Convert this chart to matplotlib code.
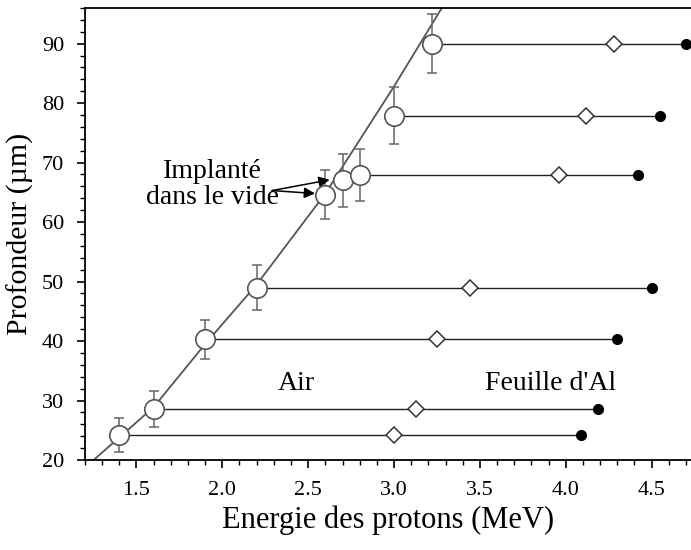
import numpy as np
import matplotlib
matplotlib.use("Agg")
import matplotlib.pyplot as plt
from matplotlib.ticker import MultipleLocator

plt.rcParams['font.family'] = ['Liberation Serif', 'DejaVu Serif']

# points mesurés (énergie, profondeur, barre d'erreur)
energie = [1.4, 1.6, 1.9, 2.2, 2.6, 2.7, 2.8, 3.0, 3.22]
profondeur = [24.2, 28.6, 40.3, 49.0, 64.6, 67.0, 67.9, 77.9, 90.0]
erreur = [2.8, 3.0, 3.3, 3.7, 4.1, 4.4, 4.3, 4.8, 4.9]

# énergie après la feuille d'Al (losanges) et énergie finale (points noirs)
rangees = [0, 1, 2, 3, 6, 7, 8]
e_losange = [3.0, 3.13, 3.25, 3.44, 3.96, 4.12, 4.28]
e_final = [4.09, 4.19, 4.30, 4.50, 4.42, 4.55, 4.70]

# courbe parcours-énergie
courbe_e = [1.25, 1.4, 1.6, 1.9, 2.2, 2.6, 3.0, 3.3]
courbe_p = [20.0, 23.8, 28.9, 39.5, 49.5, 64.8, 82.8, 97.0]

fig = plt.figure(figsize=(6.91, 5.5), dpi=100)
ax = fig.add_axes([0.123, 0.1636, 0.877, 0.822])

ax.plot(courbe_e, courbe_p, color='#555555', lw=1.3, zorder=2)

for i, el, ef in zip(rangees, e_losange, e_final):
    y = profondeur[i]
    ax.plot([energie[i], ef], [y, y], color='#222222', lw=1.0, zorder=1)
    ax.plot(el, y, marker='D', ms=8, mfc='white', mec='#333333', mew=1.1, zorder=3)
    ax.plot(ef, y, marker='o', ms=7, color='black', zorder=3)

ax.errorbar(energie, profondeur, yerr=erreur, fmt='none', ecolor='#666666',
            elinewidth=1.1, capsize=3.5, capthick=1.1, zorder=3)
ax.plot(energie, profondeur, 'o', ms=14, mfc='white', mec='#555555', mew=1.2,
        linestyle='none', zorder=4)

ax.text(1.94, 66.3, 'Implanté\ndans le vide', ha='center', va='center',
        fontsize=20, linespacing=1.05)
for cible in [(2.625, 67.1), (2.54, 64.8)]:
    ax.annotate('', xy=cible, xytext=(2.29, 65.3),
                arrowprops=dict(arrowstyle='-|>', color='black', lw=1.1,
                                mutation_scale=16, shrinkA=0, shrinkB=0))

ax.text(2.43, 32.9, 'Air', ha='center', va='center', fontsize=20)
ax.text(3.91, 32.9, "Feuille d'Al", ha='center', va='center', fontsize=20)

ax.set_xlim(1.2, 4.73)
ax.set_ylim(20, 96)
ax.xaxis.set_major_locator(MultipleLocator(0.5))
ax.xaxis.set_minor_locator(MultipleLocator(0.1))
ax.yaxis.set_major_locator(MultipleLocator(10))
ax.yaxis.set_minor_locator(MultipleLocator(2))
ax.xaxis.set_major_formatter(matplotlib.ticker.FormatStrFormatter('%.1f'))
ax.tick_params(which='major', direction='out', length=6, width=1.2, labelsize=16, pad=9)
ax.tick_params(which='minor', direction='out', length=3.5, width=1.0)
ax.tick_params(top=False, right=False)
ax.spines['right'].set_visible(False)
for s in ['top', 'left', 'bottom']:
    ax.spines[s].set_linewidth(1.3)

ax.set_xlabel('Energie des protons (MeV)', fontsize=22, labelpad=4)
ax.set_ylabel('Profondeur (µm)', fontsize=21.5, labelpad=6)

fig.savefig('out.png', dpi=100)
